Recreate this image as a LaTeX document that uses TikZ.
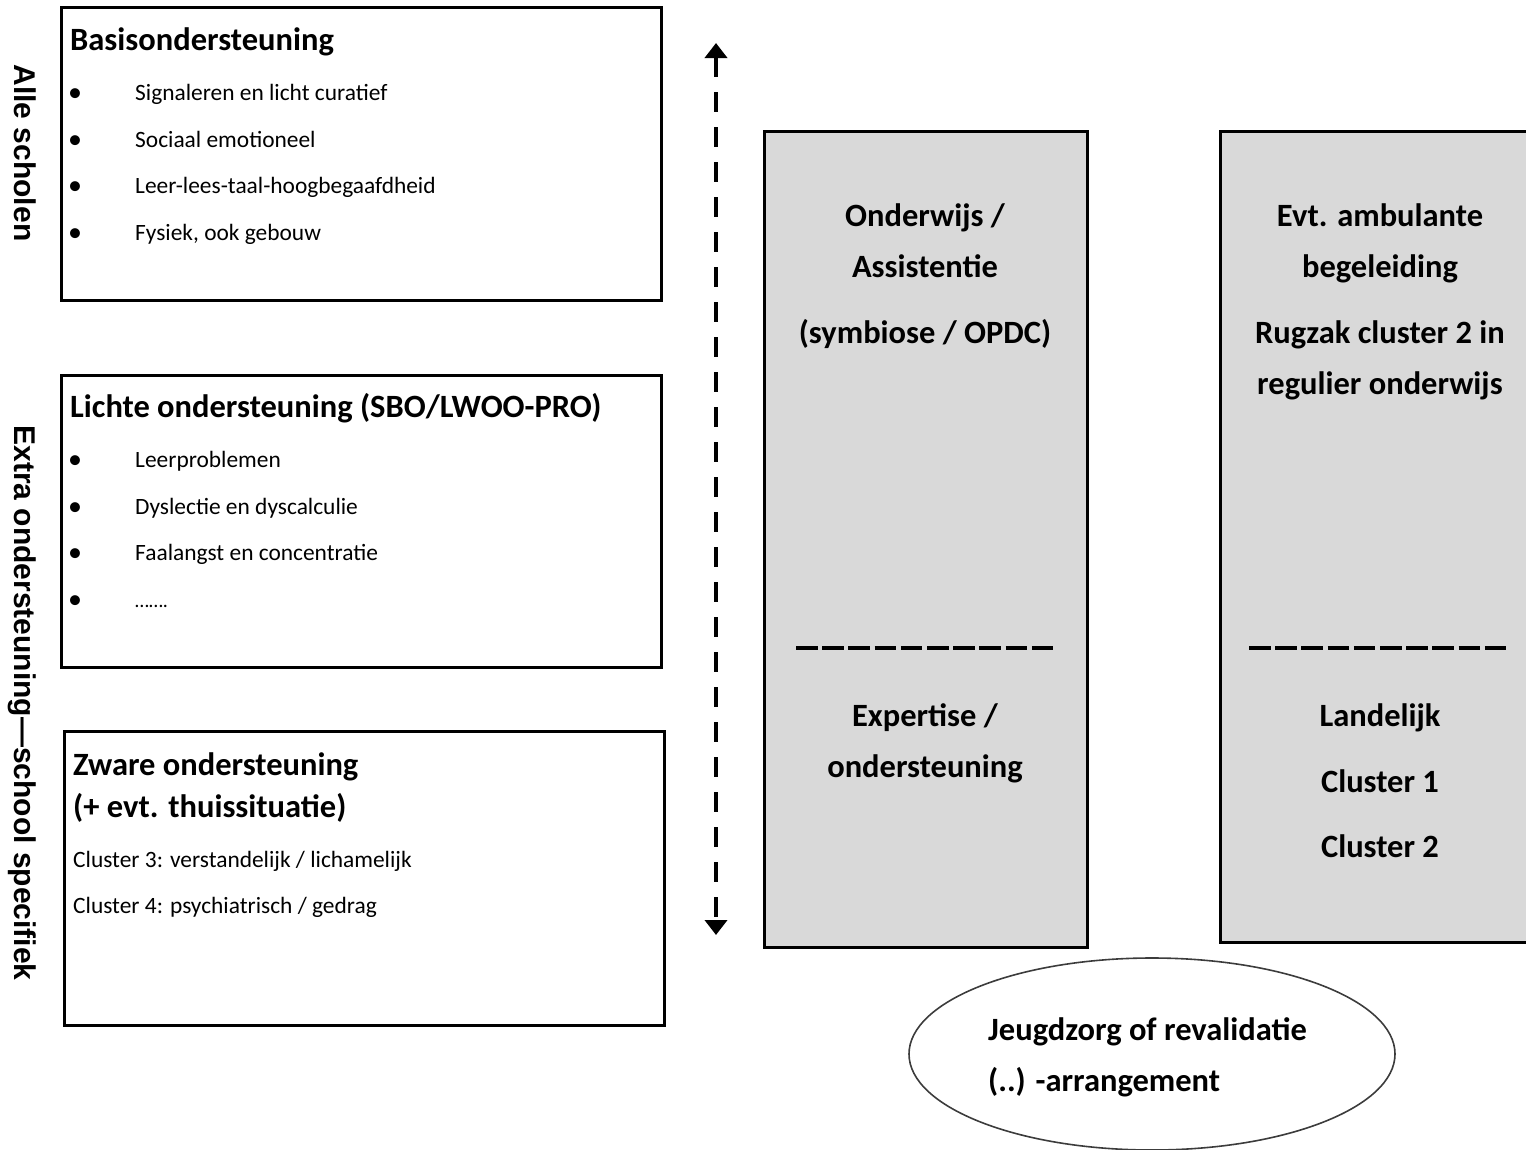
\documentclass[tikz,border=0pt]{standalone}
\usepackage{fontspec}
\setmainfont{Carlito}
\newfontfamily\arialfont{Liberation Sans}
\usetikzlibrary{arrows.meta,shapes.geometric}
\definecolor{boxgrey}{RGB}{217,217,217}
\definecolor{ellline}{RGB}{60,60,60}
\tikzset{
  box/.style={draw, line width=3pt, inner sep=0pt},
  greybox/.style={draw, line width=3pt, fill=boxgrey, inner sep=0pt},
  ttl/.style={font=\fontsize{32.5}{39}\selectfont\bfseries, anchor=base west, inner sep=0pt},
  itm/.style={font=\fontsize{23.4}{28}\selectfont, anchor=base west, inner sep=0pt},
  blt/.style={font=\fontsize{28}{32}\selectfont, anchor=base, inner sep=0pt},
  ctr/.style={font=\fontsize{32.5}{39}\selectfont\bfseries, anchor=base, inner sep=0pt},
  side/.style={font=\arialfont\bfseries\fontsize{30}{36}\selectfont, rotate=-90, inner sep=0pt},
  sepdash/.style={line width=4.5pt, dash pattern=on 21.5pt off 4.7pt},
  updown/.style={line width=4pt, dash pattern=on 20pt off 15pt,
    {Triangle[width=22pt,length=15pt]}-{Triangle[width=22pt,length=15pt]}},
}
\begin{document}
\begin{tikzpicture}[x=1pt,y=-1pt]
\useasboundingbox (0,0) rectangle (1526,1149);
\clip (0,0) rectangle (1526,1149);

% left boxes
\node[box, minimum width=600pt, minimum height=293pt] (b1) at (361,153.5) {};
\node[box, minimum width=600pt, minimum height=292pt] (b2) at (361,521) {};
\node[box, minimum width=600pt, minimum height=294pt] (b3) at (364,878) {};

% box 1 content
\node[ttl] (t1) at (70,50) {Basisondersteuning};
\node[blt] (p11) at (75,101) {\textbullet};
\node[itm] (i11) at (135,100) {Signaleren en licht curatief};
\node[blt] (p12) at (75,148) {\textbullet};
\node[itm] (i12) at (135,147) {Sociaal emotioneel};
\node[blt] (p13) at (75,194) {\textbullet};
\node[itm] (i13) at (135,193) {Leer-lees-taal-hoogbegaafdheid};
\node[blt] (p14) at (75,241) {\textbullet};
\node[itm] (i14) at (135,240) {Fysiek, ook gebouw};

% box 2 content
\node[ttl] (t2) at (70,417) {Lichte ondersteuning (SBO/LWOO-PRO)};
\node[blt] (p21) at (75,468) {\textbullet};
\node[itm] (i21) at (135,467) {Leerproblemen};
\node[blt] (p22) at (75,515) {\textbullet};
\node[itm] (i22) at (135,514) {Dyslectie en dyscalculie};
\node[blt] (p23) at (75,561) {\textbullet};
\node[itm] (i23) at (135,560) {Faalangst en concentratie};
\node[blt] (p24) at (75,608) {\textbullet};
\node[itm, font=\fontsize{20}{24}\selectfont] (i24) at (135,607) {…….};

% box 3 content
\node[ttl] (t3a) at (73,775) {Zware ondersteuning};
\node[ttl] (t3b) at (73,817) {(+ evt. thuissituatie)};
\node[itm] (i31) at (73,867) {Cluster 3: verstandelijk / lichamelijk};
\node[itm] (i32) at (73,913) {Cluster 4: psychiatrisch / gedrag};

% side labels
\node[side] (s1) at (25,153) {Alle scholen};
\node[side] (s2) at (22,703) {Extra ondersteuning—school specifiek};

% dashed double arrow
\coordinate (atop) at (716,43);
\coordinate (abot) at (716,935);
\draw[updown] (atop) -- (abot);

% grey boxes
\node[greybox, minimum width=323pt, minimum height=816pt] (g1) at (925.5,539) {};
\node[greybox, minimum width=320pt, minimum height=811pt] (g2) at (1380,536.5) {};

\node[ctr] (g1a) at (925,226) {Onderwijs /};
\node[ctr] (g1b) at (925,277) {Assistentie};
\node[ctr] (g1c) at (925,343) {(symbiose / OPDC)};
\coordinate (d1a) at (796,648);
\coordinate (d1b) at (1057,648);
\draw[sepdash] (d1a) -- (d1b);
\node[ctr] (g1d) at (925,726) {Expertise /};
\node[ctr] (g1e) at (925,777) {ondersteuning};

\node[ctr] (g2a) at (1380,226) {Evt. ambulante};
\node[ctr] (g2b) at (1380,277) {begeleiding};
\node[ctr] (g2c) at (1380,343) {Rugzak cluster 2 in};
\node[ctr] (g2d) at (1380,394) {regulier onderwijs};
\coordinate (d2a) at (1249,648);
\coordinate (d2b) at (1510,648);
\draw[sepdash] (d2a) -- (d2b);
\node[ctr] (g2e) at (1380,726) {Landelijk};
\node[ctr] (g2f) at (1380,792) {Cluster 1};
\node[ctr] (g2g) at (1380,857) {Cluster 2};

% ellipse
\node[ellipse, draw=ellline, line width=1.6pt, minimum width=486pt, minimum height=192pt, inner sep=0pt] (el) at (1152,1054) {};
\node[ttl] (e1) at (988,1040) {Jeugdzorg of revalidatie};
\node[ttl] (e2) at (988,1091) {(..) -arrangement};
\end{tikzpicture}
\end{document}
